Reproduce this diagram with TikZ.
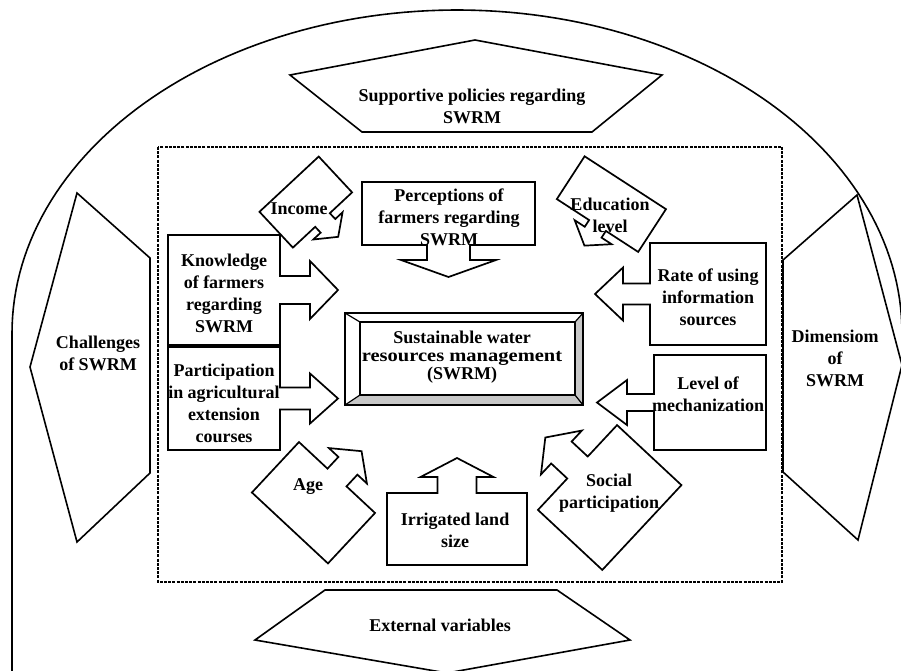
\documentclass[tikz,border=0pt]{standalone}
\usepackage{fontspec}
\setmainfont{Liberation Serif}
\usepackage{graphicx}
\tikzset{
  shp/.style={draw=black, line width=1.7pt, fill=white, line join=miter},
  pent/.style={draw=black, line width=1.6pt, fill=white, line join=miter},
  outerline/.style={draw=black, line width=1.6pt},
  dashbox/.style={draw=black, line width=1.3pt, dash pattern=on 3pt off 1.2pt},
  lbl/.style={font=\bfseries\fontsize{18}{22}\selectfont, align=center, inner sep=0pt},
  bevelfill/.style={fill=black!22},
}
% #1 exit-side midpoint, #2 angle, #3 box depth, #4 box width, #5 shaft half width,
% #6 shaft length, #7 head half width, #8 head length
\newcommand\callout[8]{%
  \draw[shp, shift={(#1)}, rotate=#2]
   (-#3,-#4/2) -- (0,-#4/2) -- (0,-#5) -- (#6,-#5) -- (#6,-#7) -- ({#6+#8},0)
   -- (#6,#7) -- (#6,#5) -- (0,#5) -- (0,#4/2) -- (-#3,#4/2) -- cycle;}
\begin{document}
\begin{tikzpicture}[x=1pt,y=-1pt]
\useasboundingbox (0,0) rectangle (901,670);
\begin{scope}
\clip (0,0) rectangle (901,670);
% outer boundary
\draw[outerline] (12,672) -- (12,333) -- plot[domain=180:360, samples=120] ({457+445*cos(\x)},{333+323*sin(\x)});
% pentagons
\draw[pent] (290,75) -- (475,40) -- (662,75) -- (592,132) -- (362,132) -- cycle;
\draw[pent] (77,193) -- (150,258) -- (150,473) -- (77,542) -- (30,367) -- cycle;
\draw[pent] (857,195) -- (783,260) -- (783,472) -- (858,540) -- (902,365) -- cycle;
\draw[pent] (325,590) -- (557,590) -- (630,640) -- (447,673) -- (255,640) -- cycle;
\end{scope}
% dashed frame
\draw[dashbox] (158,147) rectangle (782,582);
% callout shapes
\callout{280,290}{0}{112}{110}{14}{30}{29}{28}
\callout{280,398.5}{0}{112}{103}{11}{30}{25}{28}
\callout{650,294}{180}{116}{102}{10.5}{27}{26.5}{28}
\callout{654,402.5}{180}{112}{95}{8.5}{27}{22.5}{30}
\callout{448.5,245}{-90}{63}{173}{21.5}{15}{47.5}{17}
\callout{457,493}{90}{72}{140}{19.5}{16}{36.5}{19}
\callout{322.5,220}{-47}{49}{81}{10}{8}{20}{15}
\callout{597.5,225.5}{-123}{51}{97}{10}{8}{22}{16}
\callout{337,477.5}{47}{69}{104}{13}{16}{26}{20}
\callout{577.5,467.5}{137}{88}{116}{15}{22}{30}{22}
% central bevelled box
\fill[bevelfill] (345,405) -- (583,405) -- (575,395) -- (360,395) -- cycle;
\fill[bevelfill] (583,313) -- (583,405) -- (575,395) -- (575,322) -- cycle;
\draw[line width=1.2pt] (345,313) -- (360,322) (583,313) -- (575,322) (345,405) -- (360,395) (583,405) -- (575,395);
\draw[line width=2.2pt] (345,313) rectangle (583,405);
\draw[line width=2pt] (360,322) rectangle (575,395);
% labels
\node[lbl] (supp) at (472,106) {Supportive policies regarding\\SWRM};
\node[lbl] (chal) at (98,353) {Challenges\\of SWRM};
\node[lbl] (dim) at (835,358) {Dimensiom\\of\\SWRM};
\node[lbl] (ext) at (440,625) {External variables};
\node[lbl] (know) at (224,293) {Knowledge\\of farmers\\regarding\\SWRM};
\node[lbl] (part) at (224,403) {Participation\\in agricultural\\extension\\courses};
\node[lbl] (perc) at (449,217) {Perceptions of\\farmers regarding\\SWRM};
\node[lbl] (rate) at (708,297) {Rate of using\\information\\sources};
\node[lbl] (mech) at (708,394) {Level of\\mechanization};
\node[lbl] (inc) at (299,209) {Income};
\node[lbl] (edu) at (610,215) {Education\\level};
\node[lbl] (age) at (308,487) {Age};
\node[lbl] (soc) at (609,493) {Social\\participation};
\node[lbl] (irr) at (455,530) {Irrigated land\\size};
\node[lbl, font=\bfseries\fontsize{18}{18}\selectfont] (swrm) at (462,357) {Sustainable water\\\scalebox{1.14}[1]{resources management}\\(SWRM)};
\end{tikzpicture}
\end{document}
